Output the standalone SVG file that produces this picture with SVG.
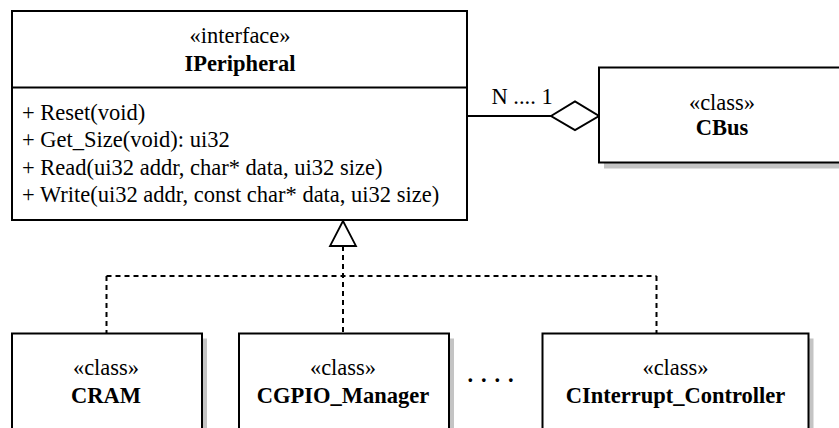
<svg xmlns="http://www.w3.org/2000/svg" width="839" height="428" viewBox="0 0 839 428">
<style>
  .box { fill: #ffffff; stroke: #000000; stroke-width: 2; }
  .shadow { fill: #c4c4c4; stroke: none; }
  .t { font-family: 'Liberation Serif', 'Tinos', 'DejaVu Serif', serif; font-size: 22.5px; fill: #000000; }
  .c { text-anchor: middle; }
  .b { font-weight: bold; }
  .solid { fill: none; stroke: #000000; stroke-width: 2; }
  .dash { fill: none; stroke: #000000; stroke-width: 2; stroke-dasharray: 5 4; }
</style>
<rect width="839" height="428" fill="#ffffff"/>
<g id="connectors">
  <line class="solid" x1="467" y1="116" x2="551" y2="116"/>
  <polygon points="551,116 575,101.5 599,116 575,130" fill="#ffffff" stroke="#000000" stroke-width="2"/>
  <text class="t" x="491.5" y="103.5" font-family="Liberation Serif, serif">N .... 1</text>
  <line class="dash" x1="343" y1="246" x2="343" y2="333.5"/>
  <line class="dash" x1="106.5" y1="276" x2="656.5" y2="276"/>
  <line class="dash" x1="106.5" y1="276" x2="106.5" y2="333.5"/>
  <line class="dash" x1="656.5" y1="276" x2="656.5" y2="333.5"/>
  <polygon points="343,221 330,246 356,246" fill="#ffffff" stroke="#000000" stroke-width="1.8"/>
</g>
<g id="IPeripheral">
  <rect class="box" x="12" y="11" width="455" height="209"/>
  <line class="solid" x1="12" y1="87.5" x2="467" y2="87.5"/>
  <text class="t c" x="240" y="43">«interface»</text>
  <text class="t c b" x="240" y="70.5">IPeripheral</text>
  <text class="t" x="22" y="120">+ Reset(void)</text>
  <text class="t" x="22" y="147">+ Get_Size(void): ui32</text>
  <text class="t" x="22" y="174.5">+ Read(ui32 addr, char* data, ui32 size)</text>
  <text class="t" x="22" y="201.5">+ Write(ui32 addr, const char* data, ui32 size)</text>
</g>
<g id="CBus">
  <rect x="604" y="72.5" width="246" height="96" fill="#c4c4c4"/>
  <rect class="box" x="599" y="67.5" width="246" height="95"/>
  <text class="t c" x="722" y="109.5">«class»</text>
  <text class="t c b" x="722" y="135">CBus</text>
</g>
<g id="CRAM">
  <rect x="17" y="338.5" width="190" height="100" fill="#c4c4c4"/>
  <rect class="box" x="12" y="333.5" width="190" height="110"/>
  <text class="t c" x="106" y="375">«class»</text>
  <text class="t c b" x="106" y="403">CRAM</text>
</g>
<g id="CGPIO_Manager">
  <rect x="244" y="338.5" width="210" height="100" fill="#c4c4c4"/>
  <rect class="box" x="239" y="333.5" width="210" height="110"/>
  <text class="t c" x="343" y="375">«class»</text>
  <text class="t c b" x="343" y="403">CGPIO_Manager</text>
</g>
<g id="ellipsis">
  <text class="t b" x="467.5 481 494.5 508" y="382">....</text>
</g>
<g id="CInterrupt_Controller">
  <rect x="547.5" y="338.5" width="266" height="100" fill="#c4c4c4"/>
  <rect class="box" x="542.5" y="333.5" width="266" height="110"/>
  <text class="t c" x="675.5" y="375">«class»</text>
  <text class="t c b" x="675.5" y="403">CInterrupt_Controller</text>
</g>
</svg>
